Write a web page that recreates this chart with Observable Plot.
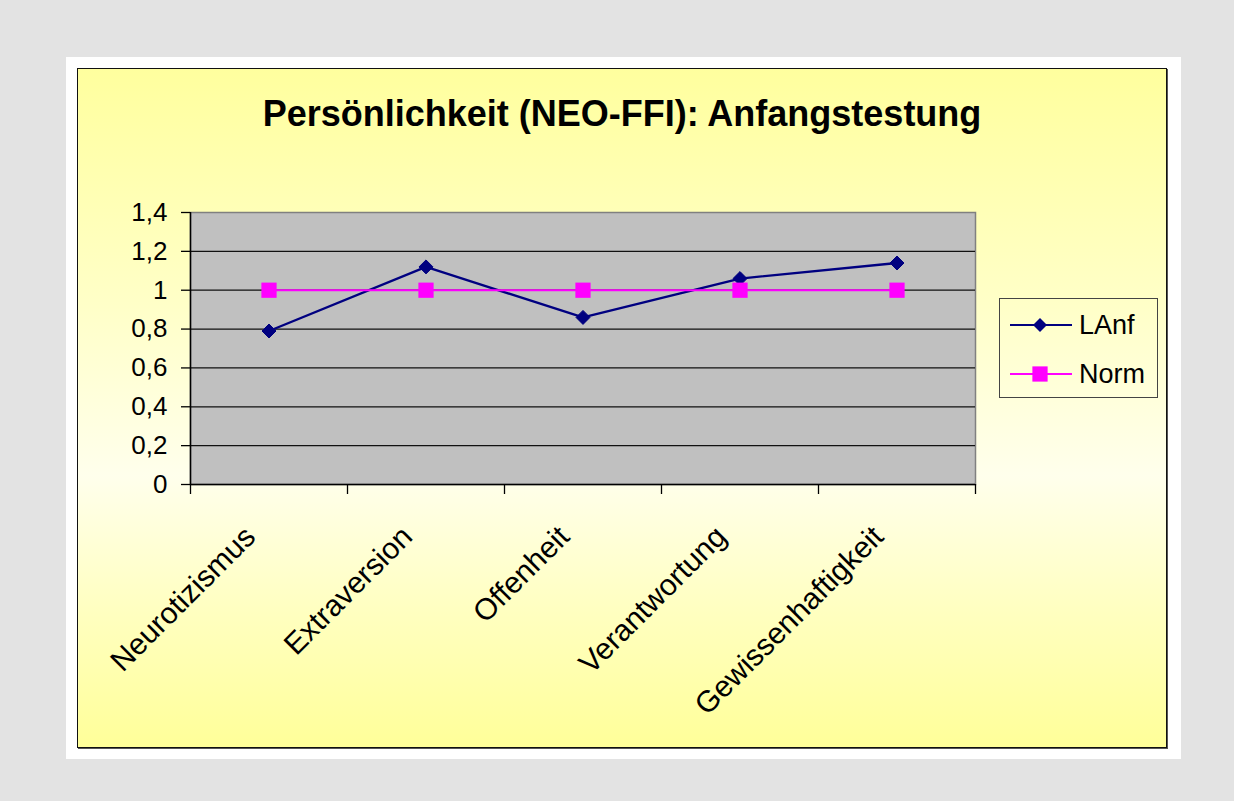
<!DOCTYPE html>
<html><head><meta charset="utf-8">
<script src="https://cdn.jsdelivr.net/npm/d3@7"></script>
<script src="https://cdn.jsdelivr.net/npm/@observablehq/plot@0.6"></script>
<style>
html,body{margin:0;padding:0;width:1234px;height:801px;background:#e3e3e3;overflow:hidden;font-family:"Liberation Sans",Arial,sans-serif;}
#outer{position:absolute;left:66px;top:57px;width:1115px;height:702px;background:#fff;}
#chartbg{position:absolute;left:77px;top:68px;width:1088px;height:678px;border:1px solid #111;box-shadow:1px 1px 0 #555;
  background:linear-gradient(to bottom,#ffff9e 0%,#ffffc8 35%,#ffffec 60%,#ffffc0 80%,#ffff99 100%);}
#title{position:absolute;left:77px;width:1090px;top:96px;text-align:center;font-weight:bold;font-size:36px;line-height:36px;color:#000;white-space:nowrap;}
#plot{position:absolute;left:0;top:0;}
#legend{position:absolute;left:999px;top:298px;}
</style></head>
<body>
<div id="outer"></div>
<div id="chartbg"></div>
<div id="title">Persönlichkeit (NEO-FFI): Anfangstestung</div>
<div id="plot"></div>
<div id="legend"></div>
<script>
const categories = ["Neurotizismus","Extraversion","Offenheit","Verantwortung","Gewissenhaftigkeit"];
const seriesNames = ["LAnf","Norm"];
const lanfValues = [0.79, 1.12, 0.86, 1.06, 1.14];
const normValues = [1, 1, 1, 1, 1];
const yTicks = [0, 0.2, 0.4, 0.6, 0.8, 1, 1.2, 1.4];
const seriesColors = ["#000080", "#ff00ff"];

const lanfRows = categories.map((c, i) => ({cat: c, i: i + 1, series: "LAnf", value: lanfValues[i]}));
const normRows = categories.map((c, i) => ({cat: c, i: i + 1, series: "Norm", value: normValues[i]}));
const boundaries = d3.range(0, categories.length + 1).map(k => k + 0.5);
const fmt = d => String(+d.toFixed(1)).replace(".", ",");

const font = '"Liberation Sans", Arial, sans-serif';
const plot = Plot.plot({
  width: 1234, height: 801,
  marginLeft: 190, marginRight: 259, marginTop: 212, marginBottom: 317,
  style: {background: "transparent", overflow: "visible", fontFamily: font, color: "#000"},
  x: {type: "linear", domain: [0.5, categories.length + 0.5], axis: null},
  y: {domain: [0, 1.4], axis: null},
  marks: [
    Plot.frame({fill: "#c0c0c0", stroke: "#808080", strokeWidth: 1.5}),
    Plot.ruleY(yTicks.slice(1, -1), {stroke: "#111", strokeWidth: 1.3}),
    Plot.ruleY([0], {stroke: "#000", strokeWidth: 1.5}),
    Plot.ruleX([0.5], {y1: 0, y2: 1.4, stroke: "#000", strokeWidth: 1.5}),
    Plot.axisY({ticks: yTicks, tickSize: 9, tickPadding: 14, tickFormat: fmt, fontSize: 26, stroke: "#000", strokeWidth: 1.3, label: null}),
    Plot.axisX({ticks: boundaries, tickSize: 10, tickFormat: () => "", stroke: "#000", strokeWidth: 1.3, label: null}),
    Plot.text(categories, {x: (d, i) => i + 1, frameAnchor: "bottom", rotate: -45, textAnchor: "end", lineAnchor: "top",
      dx: -27, dy: 39, fontSize: 30, fill: "#000"}),
    Plot.line(lanfRows, {x: "i", y: "value", stroke: seriesColors[0], strokeWidth: 2.3}),
    Plot.dot(lanfRows, {x: "i", y: "value", symbol: "diamond2", r: 6.3, fill: seriesColors[0], stroke: seriesColors[0], strokeWidth: 1}),
    Plot.line(normRows, {x: "i", y: "value", stroke: seriesColors[1], strokeWidth: 2}),
    Plot.dot(normRows, {x: "i", y: "value", symbol: "square", r: 8.6, fill: seriesColors[1], stroke: "none"})
  ]
});
document.getElementById("plot").appendChild(plot);

// legend
const lg = d3.select("#legend").append("svg").attr("width", 160).attr("height", 101).style("overflow", "visible");
lg.append("rect").attr("x", 0.5).attr("y", 0.5).attr("width", 158).attr("height", 99)
  .attr("fill", "none").attr("stroke", "#444").attr("stroke-width", 1);
const rowsY = [27, 76];
seriesNames.forEach((name, k) => {
  const g = lg.append("g").attr("transform", `translate(0,${rowsY[k]})`);
  g.append("line").attr("x1", 11).attr("x2", 73).attr("y1", 0).attr("y2", 0)
    .attr("stroke", seriesColors[k]).attr("stroke-width", 2);
  const sym = k === 0 ? d3.symbolDiamond2 : d3.symbolSquare;
  const size = k === 0 ? 6.3 * 6.3 * Math.PI : 8.6 * 8.6 * Math.PI;
  g.append("path").attr("transform", "translate(41,0)").attr("d", d3.symbol(sym, size)())
    .attr("fill", seriesColors[k]);
  g.append("text").attr("x", 80).attr("y", 0).attr("dy", "0.35em").attr("font-size", 27)
    .attr("font-family", font).attr("fill", "#000").text(name);
});
</script>
</body></html>
